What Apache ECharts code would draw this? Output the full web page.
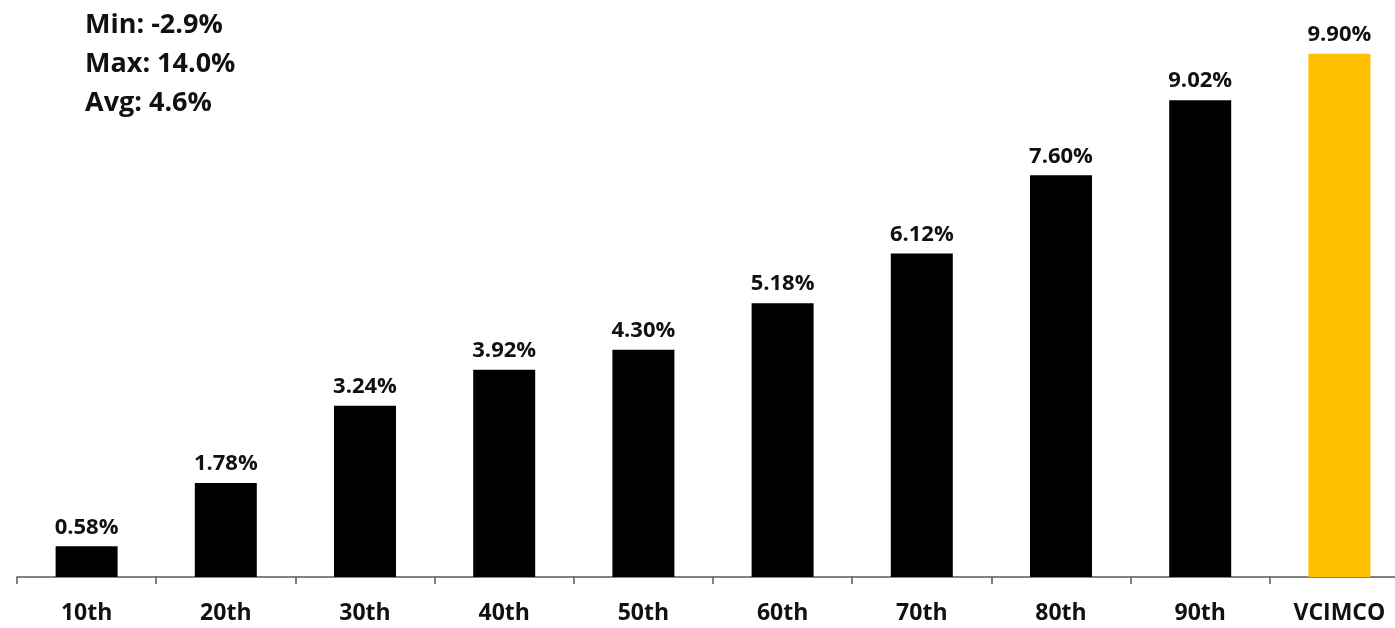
<!DOCTYPE html>
<html>
<head>
<meta charset="utf-8">
<script src="https://cdn.jsdelivr.net/npm/echarts@6/dist/echarts.min.js"></script>
<style>
  html, body { margin: 0; padding: 0; background: #fff; }
  #chart { width: 1395px; height: 628px; }
</style>
</head>
<body>
<div id="chart"></div>
<script>
var categories = ['10th', '20th', '30th', '40th', '50th', '60th', '70th', '80th', '90th', 'VCIMCO'];
var returns = [0.58, 1.78, 3.24, 3.92, 4.30, 5.18, 6.12, 7.60, 9.02, 9.90];
var statLines = ['Min: -2.9%', 'Max: 14.0%', 'Avg: 4.6%'];

var chart = echarts.init(document.getElementById('chart'));

var option = {
  animation: false,
  textStyle: { fontFamily: 'Open Sans' },
  title: {
    text: statLines.join('\n'),
    left: 80,
    top: 1,
    textStyle: {
      fontFamily: 'Open Sans',
      fontWeight: 'bold',
      fontSize: 27,
      lineHeight: 39,
      color: '#111'
    }
  },
  // the last category runs past the right edge in the original
  grid: { left: 17, width: 1392, top: 22, bottom: 51, outerBoundsMode: 'none' },
  xAxis: {
    type: 'category',
    data: categories,
    axisLine: { lineStyle: { color: '#595959', width: 1.5 } },
    axisTick: { show: true, length: 7, lineStyle: { color: '#595959', width: 1.5 } },
    axisLabel: {
      margin: 25,
      fontSize: 23,
      fontWeight: 'bold',
      color: '#111'
    }
  },
  yAxis: {
    type: 'value',
    min: 0,
    max: 10.5,
    show: false,
    splitLine: { show: false }
  },
  series: [{
    type: 'bar',
    barWidth: 62,
    data: returns.map(function (v, i) {
      return {
        value: v,
        itemStyle: { color: i === returns.length - 1 ? '#FFC000' : '#000000' }
      };
    }),
    label: {
      show: true,
      position: 'top',
      distance: 8,
      fontSize: 22,
      fontWeight: 'bold',
      color: '#111',
      formatter: function (p) { return p.value.toFixed(2) + '%'; }
    }
  }]
};

chart.setOption(option);
</script>
</body>
</html>
